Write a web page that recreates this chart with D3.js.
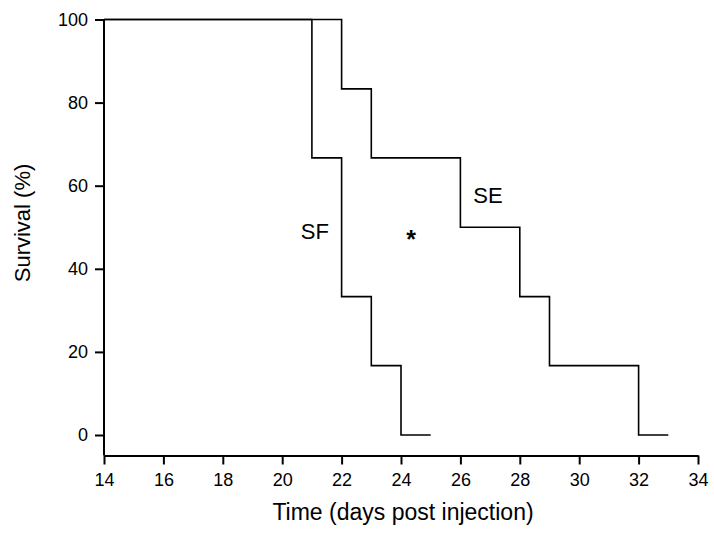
<!DOCTYPE html>
<html>
<head>
<meta charset="utf-8">
<script src="https://cdn.jsdelivr.net/npm/d3@7"></script>
<style>
  html, body { margin: 0; padding: 0; background: #fff; }
  svg text { font-family: "Liberation Sans", Arial, sans-serif; fill: #000; }
</style>
</head>
<body>
<svg id="chart" width="714" height="535"></svg>
<script>
// Kaplan–Meier survival steps: [day, survival %]
const sfDays = [14, 21, 21, 22, 22, 23, 23, 24, 24, 25];
const sfSurvival = [100, 100, 66.7, 66.7, 33.3, 33.3, 16.7, 16.7, 0, 0];
const seDays = [14, 22, 22, 23, 23, 26, 26, 28, 28, 29, 29, 32, 32, 33];
const seSurvival = [100, 100, 83.3, 83.3, 66.7, 66.7, 50, 50, 33.3, 33.3, 16.7, 16.7, 0, 0];
const xTicks = [14, 16, 18, 20, 22, 24, 26, 28, 30, 32, 34];
const yTicks = [0, 20, 40, 60, 80, 100];
const annotations = [
  { text: "SF", day: 21.1, value: 48.5 },
  { text: "*", day: 24.34, value: 46.5 },
  { text: "SE", day: 26.93, value: 57.3 }
];

const svg = d3.select("#chart");
const x = d3.scaleLinear().domain([14, 34]).range([104, 698]);
const y = d3.scaleLinear().domain([0, 100]).range([435, 19.5]);
const axisY = 455.5; // x axis sits below the 0 level

// x axis
const gx = svg.append("g").attr("transform", `translate(0,${axisY})`)
  .call(d3.axisBottom(x).tickValues(xTicks).tickSize(9).tickPadding(8.5).tickSizeOuter(0));
gx.attr("font-size", null).attr("font-family", null);
gx.select(".domain").attr("stroke", "#000").attr("stroke-width", 2);
gx.selectAll(".tick line").attr("stroke", "#000").attr("stroke-width", 2);
gx.selectAll(".tick text").style("font-size", "18px");

// y axis
const gy = svg.append("g").attr("transform", `translate(${x(14)},0)`)
  .call(d3.axisLeft(y).tickValues(yTicks).tickSize(9).tickPadding(7).tickSizeOuter(0));
gy.attr("font-size", null).attr("font-family", null);
gy.select(".domain").attr("d", `M0,${y(100)}V${axisY}`).attr("stroke", "#000").attr("stroke-width", 2);
gy.selectAll(".tick line").attr("stroke", "#000").attr("stroke-width", 2);
gy.selectAll(".tick text").style("font-size", "18px");

// survival curves
const line = d3.line().x(d => x(d[0])).y(d => y(d[1]));
[[sfDays, sfSurvival], [seDays, seSurvival]].forEach(([days, vals]) => {
  svg.append("path")
    .datum(days.map((d, i) => [d, vals[i]]))
    .attr("d", line)
    .attr("fill", "none")
    .attr("stroke", "#000")
    .attr("stroke-width", 1.6);
});

// curve labels
annotations.forEach(a => {
  svg.append("text")
    .attr("x", x(a.day)).attr("y", y(a.value))
    .attr("text-anchor", "middle")
    .attr("dominant-baseline", "middle")
    .style("font-size", a.text === "*" ? "25px" : "22px")
    .attr("font-weight", a.text === "*" ? "bold" : "normal")
    .text(a.text);
});

// axis titles
svg.append("text")
  .attr("x", 403).attr("y", 520)
  .attr("text-anchor", "middle")
  .style("font-size", "23px")
  .text("Time (days post injection)");

svg.append("text")
  .attr("transform", `translate(30,223) rotate(-90)`)
  .attr("text-anchor", "middle")
  .style("font-size", "22px")
  .text("Survival (%)");
</script>
</body>
</html>
